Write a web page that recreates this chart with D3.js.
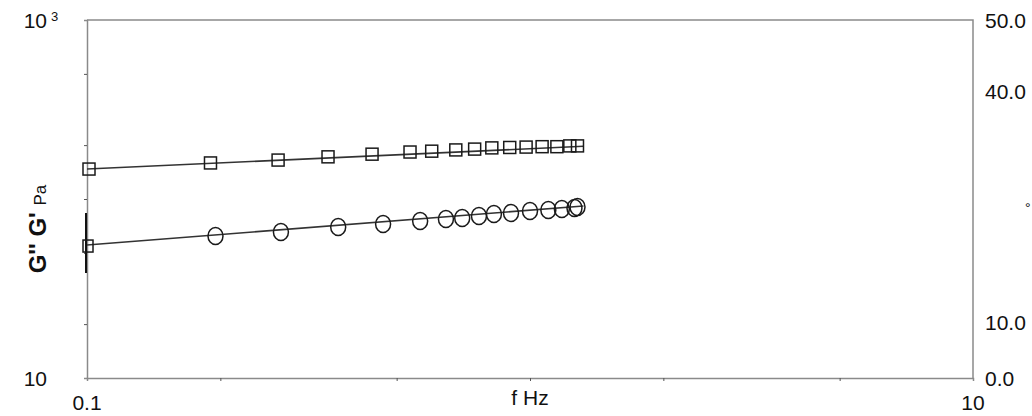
<!DOCTYPE html>
<html>
<head>
<meta charset="utf-8">
<script src="https://cdn.jsdelivr.net/npm/d3@7"></script>
<style>
  body { margin: 0; background: #fff; }
  text { font-family: "Liberation Sans", Arial, sans-serif; fill: #111; }
</style>
</head>
<body>
<div id="chart"></div>
<script>
// frequency (Hz) and moduli (Pa)
const gpFreq = [0.1, 0.19, 0.27, 0.35, 0.44, 0.536, 0.60, 0.68, 0.75, 0.82, 0.90, 0.98, 1.065, 1.15, 1.23, 1.28];
const gpVals = [147, 159, 165, 172, 178, 183, 185, 188, 190, 193, 194, 195, 196, 196, 198, 198];

const gppFreq = [0.1, 0.195, 0.274, 0.369, 0.466, 0.565, 0.646, 0.703, 0.767, 0.829, 0.906, 1.0, 1.10, 1.18, 1.26, 1.28];
const gppVals = [54.6, 62.1, 65.4, 69.8, 72.5, 75.4, 77.3, 78.3, 80.3, 82.5, 83.6, 85.7, 86.9, 88.0, 89.1, 90.2];
const gppErr = [38.6, 83.5]; // bar at the first G'' point

// power-law fits (straight on log-log)
const fitFreq = [0.1, 1.32];
const fitGp = [147, 197];
const fitGpp = [55.3, 91.4];

const xTicks = [0.2, 0.5, 1, 2, 5];
const yTicks = [20, 50, 100, 200, 500];
const rightTicks = [0, 10, 40, 50];

const width = 1032, height = 416;
const margin = { top: 20, right: 59, bottom: 38, left: 87 };
const fontSize = 21;

const svg = d3.select("#chart").append("svg")
  .attr("width", width)
  .attr("height", height);

const x = d3.scaleLog().domain([0.1, 10]).range([margin.left, width - margin.right]);
const y = d3.scaleLog().domain([10, 1000]).range([height - margin.bottom, margin.top]);
// right (phase) axis is not evenly spaced in the picture
const yr = d3.scaleLinear().domain([0, 10, 40, 50]).range([378, 322, 91, 20]);

const axisColor = "#8a8a8a";

// frame: top and right edges
svg.append("path")
  .attr("d", `M${x(0.1)},${y(1000)}H${x(10)}V${y(10)}`)
  .attr("fill", "none")
  .attr("stroke", axisColor)
  .attr("stroke-width", 1.5);

const gx = svg.append("g")
  .attr("transform", `translate(0,${y(10)})`)
  .call(d3.axisBottom(x).tickValues(xTicks).tickSize(3).tickFormat(""));
const gy = svg.append("g")
  .attr("transform", `translate(${x(0.1)},0)`)
  .call(d3.axisLeft(y).tickValues(yTicks).tickSize(3).tickFormat(""));
[gx, gy].forEach(g => {
  g.select(".domain").attr("stroke", axisColor).attr("stroke-width", 1.5);
  g.selectAll(".tick line").attr("stroke", "#555").attr("stroke-width", 1);
});

// bottom labels
svg.append("text").attr("x", x(0.1)).attr("y", 410).attr("text-anchor", "middle")
  .attr("font-size", fontSize).text("0.1");
svg.append("text").attr("x", x(10)).attr("y", 410).attr("text-anchor", "middle")
  .attr("font-size", fontSize).text("10");
svg.append("text").attr("x", x(1)).attr("y", 405).attr("text-anchor", "middle")
  .attr("font-size", fontSize).text("f Hz");

// left labels
svg.append("text").attr("x", 47).attr("y", y(10) + 8).attr("text-anchor", "end")
  .attr("font-size", fontSize).text("10");
svg.append("text").attr("x", 47).attr("y", y(1000) + 8).attr("text-anchor", "end")
  .attr("font-size", fontSize).text("10");
svg.append("text").attr("x", 51).attr("y", y(1000) + 1).attr("font-size", 13).text("3");

// left title
svg.append("text")
  .attr("transform", `translate(46,229) rotate(-90)`)
  .attr("text-anchor", "middle")
  .call(t => {
    t.append("tspan").attr("font-size", 24).attr("font-weight", "bold").text("G'' G' ");
    t.append("tspan").attr("font-size", 17).text("Pa");
  });

// right labels
svg.append("g").selectAll("text")
  .data(rightTicks)
  .join("text")
  .attr("x", 985)
  .attr("y", d => yr(d) + 8)
  .attr("font-size", fontSize)
  .text(d3.format(".1f"));
svg.append("text").attr("x", 1025).attr("y", 213).attr("font-size", 14).text("°");

// fit lines
const line = d3.line().x(d => x(d[0])).y(d => y(d[1]));
[fitGp, fitGpp].forEach(vals => {
  svg.append("path")
    .datum(fitFreq.map((f, i) => [f, vals[i]]))
    .attr("d", line)
    .attr("fill", "none")
    .attr("stroke", "#333")
    .attr("stroke-width", 1.6);
});

// error bar on the first G'' point
svg.append("line")
  .attr("x1", x(0.1) - 1).attr("x2", x(0.1) - 1)
  .attr("y1", y(gppErr[0])).attr("y2", y(gppErr[1]))
  .attr("stroke", "#111").attr("stroke-width", 2);

const markerStroke = "#1a1a1a";

// G' squares
svg.append("g").selectAll("rect")
  .data(gpFreq.map((f, i) => [f, gpVals[i]]))
  .join("rect")
  .attr("x", d => x(d[0]) - 6 + (d[0] === 0.1 ? 2 : 0))
  .attr("y", d => y(d[1]) - 6)
  .attr("width", 12)
  .attr("height", 12)
  .attr("fill", "none")
  .attr("stroke", markerStroke)
  .attr("stroke-width", 1.5);

// G'' : first point drawn as a square, others as circles
const gppData = gppFreq.map((f, i) => [f, gppVals[i]]);
svg.append("g").selectAll("rect")
  .data(gppData.slice(0, 1))
  .join("rect")
  .attr("x", d => x(d[0]) - 4)
  .attr("y", d => y(d[1]) - 6)
  .attr("width", 10)
  .attr("height", 12)
  .attr("fill", "none")
  .attr("stroke", markerStroke)
  .attr("stroke-width", 1.5);
svg.append("g").selectAll("ellipse")
  .data(gppData.slice(1))
  .join("ellipse")
  .attr("cx", d => x(d[0]))
  .attr("cy", d => y(d[1]))
  .attr("rx", 7.5)
  .attr("ry", 8.5)
  .attr("fill", "none")
  .attr("stroke", markerStroke)
  .attr("stroke-width", 1.5);
</script>
</body>
</html>
